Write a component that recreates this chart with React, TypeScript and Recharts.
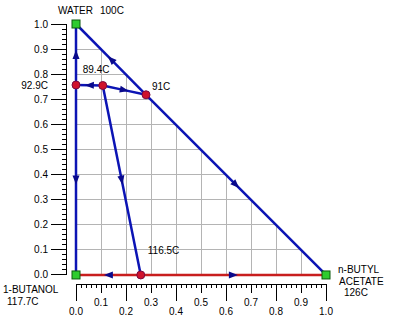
import React from 'react';
import { ComposedChart, Line, Scatter, XAxis, YAxis, ReferenceLine } from 'recharts';

// Pure components (corners of the composition triangle)
const pureNames = ['WATER', '1-BUTANOL', 'n-BUTYL ACETATE'];
const pureTemps = ['100C', '117.7C', '126C'];
const pureX = [0, 0, 1];
const pureY = [1, 0, 0];

// Azeotropes
const azeoTemps = ['92.9C', '89.4C', '91C', '116.5C'];
const azeoX = [0, 0.107, 0.28, 0.259];
const azeoY = [0.757, 0.755, 0.718, 0];

// Distillation boundaries, from -> to (arrow direction). P = pure, A = azeotrope
const blueFrom = ['A0', 'A0', 'A1', 'A1', 'A1', 'A2', 'A2'];
const blueTo = ['P0', 'P1', 'A0', 'A2', 'A3', 'P0', 'P2'];
const redFrom = ['A3', 'A3'];
const redTo = ['P1', 'P2'];

// Axis tick labels and grid
const axisLabels = [0, 0.1, 0.2, 0.3, 0.4, 0.5, 0.6, 0.7, 0.8, 0.9, 1.0];
const gridValues = [0.1, 0.2, 0.3, 0.4, 0.5, 0.6, 0.7, 0.8, 0.9];
const minorTicks = Array.from({ length: 51 }, (_, i) => Math.round(i * 2) / 100);

const X_MIN = -0.04;
const Y_MIN = -0.036;

const BLUE = '#0c14b4';
const RED = '#c81e1e';
const ARROW = '#0a0a8c';
const FONT = 'Liberation Sans, Arial, sans-serif';

const pureData = pureNames.map((name, i) => ({ name, temp: pureTemps[i], x: pureX[i], y: pureY[i], idx: i }));
const azeoData = azeoTemps.map((temp, i) => ({ temp, x: azeoX[i], y: azeoY[i], idx: i }));

const pts: Record<string, { x: number; y: number }> = {};
pureData.forEach((p) => (pts['P' + p.idx] = { x: p.x, y: p.y }));
azeoData.forEach((p) => (pts['A' + p.idx] = { x: p.x, y: p.y }));

const segment = (from: string, to: string) => {
  const a = pts[from];
  const b = pts[to];
  return [a, { x: (a.x + b.x) / 2, y: (a.y + b.y) / 2 }, b];
};

// label placement (pixel offsets from the marker)
const pureLabelPos = [
  [{ dx: -18, dy: -10 }, { dx: 24, dy: -10 }],
  [{ dx: -73, dy: 18.5 }, { dx: -69, dy: 30.5 }],
  [{ dx: 12, dy: -1.5 }, { dx: 13, dy: 10 }, { dx: 18, dy: 21 }],
];
const azeoLabelPos = [
  { dx: -28, dy: 4, anchor: 'end' },
  { dx: -20, dy: -12, anchor: 'start' },
  { dx: 6, dy: -5, anchor: 'start' },
  { dx: 7, dy: -20.5, anchor: 'start' },
];

const makeArrow = (from: string, to: string) => (props: any) => {
  const { cx, cy, index } = props;
  if (index !== 1 || cx == null) return <g key={`a-${index}`} />;
  const a = pts[from];
  const b = pts[to];
  const ang = Math.atan2(-(b.y - a.y), b.x - a.x);
  const c = Math.cos(ang);
  const s = Math.sin(ang);
  const L = 4.5;
  const W = 3.5;
  const p1 = `${cx + c * L},${cy + s * L}`;
  const p2 = `${cx - c * L - s * W},${cy - s * L + c * W}`;
  const p3 = `${cx - c * L + s * W},${cy - s * L - c * W}`;
  return <polygon key={`a-${index}`} points={`${p1} ${p2} ${p3}`} fill={ARROW} />;
};

const XTick = (props: any) => {
  const { x, y, payload } = props;
  const v = payload.value;
  const k = Math.round(v * 50);
  const major = k % 5 === 0;
  const even = k % 10 === 0;
  const len = !major ? 4 : even ? 17 : 9;
  return (
    <g>
      <line x1={x} x2={x} y1={y} y2={y + len} stroke="#000" shapeRendering="crispEdges" />
      {major && (
        <text x={x} y={y + (even ? 31 : 21.5)} textAnchor="middle" fontSize={10} fontFamily={FONT} fill="#000">
          {v.toFixed(1)}
        </text>
      )}
    </g>
  );
};

const YTick = (props: any) => {
  const { x, y, payload } = props;
  const v = payload.value;
  const k = Math.round(v * 50);
  const major = k % 5 === 0;
  const len = major ? 15 : 4;
  return (
    <g>
      <line x1={x - len} x2={x} y1={y} y2={y} stroke="#000" shapeRendering="crispEdges" />
      {major && (
        <text x={x - 18} y={y + 3.5} textAnchor="end" fontSize={10} fontFamily={FONT} fill="#000">
          {v.toFixed(1)}
        </text>
      )}
    </g>
  );
};

const PureShape = (props: any) => {
  const { cx, cy, payload } = props;
  const lines = [...payload.name.split(' '), payload.temp];
  const pos = pureLabelPos[payload.idx];
  return (
    <g>
      <rect x={cx - 4} y={cy - 4} width={8} height={8} fill="#2ecc2e" stroke="#0d5a0d" strokeWidth={1} />
      {lines.map((t: string, i: number) => (
        <text key={i} x={cx + pos[i].dx} y={cy + pos[i].dy} fontSize={10} fontFamily={FONT} fill="#000">
          {t}
        </text>
      ))}
    </g>
  );
};

const AzeoShape = (props: any) => {
  const { cx, cy, payload } = props;
  const pos = azeoLabelPos[payload.idx];
  return (
    <g>
      <circle cx={cx} cy={cy} r={4} fill="#d0122c" stroke="#7a0a40" strokeWidth={1} />
      <text x={cx + pos.dx} y={cy + pos.dy} textAnchor={pos.anchor as any} fontSize={10} fontFamily={FONT} fill="#000">
        {payload.temp}
      </text>
    </g>
  );
};

export default function App() {
  return (
    <div style={{ position: 'absolute', left: 0, top: 0, background: '#fff' }}>
      <ComposedChart width={405} height={323} margin={{ top: 24, right: 79, bottom: 0, left: 0 }}>
        <XAxis
          type="number"
          dataKey="x"
          domain={[X_MIN, 1]}
          ticks={minorTicks}
          interval={0}
          tickSize={0}
          tickMargin={0}
          axisLine={false}
          tickLine={false}
          tick={<XTick />}
          height={39}
        />
        <YAxis
          type="number"
          dataKey="y"
          domain={[Y_MIN, 1]}
          ticks={minorTicks}
          interval={0}
          tickSize={0}
          tickMargin={0}
          axisLine={false}
          tickLine={false}
          tick={<YTick />}
          width={66}
        />
        {gridValues.map((g) => (
          <ReferenceLine
            key={`gv${g}`}
            segment={[{ x: g, y: 0 }, { x: g, y: 1 - g }]}
            stroke="#b4b4b4"
            shapeRendering="crispEdges"
          />
        ))}
        {gridValues.map((g) => (
          <ReferenceLine
            key={`gh${g}`}
            segment={[{ x: 0, y: g }, { x: 1 - g, y: g }]}
            stroke="#b4b4b4"
            shapeRendering="crispEdges"
          />
        ))}
        <ReferenceLine segment={[{ x: 0, y: Y_MIN }, { x: 1, y: Y_MIN }]} stroke="#000" shapeRendering="crispEdges" />
        <ReferenceLine segment={[{ x: X_MIN, y: 0 }, { x: X_MIN, y: 1 }]} stroke="#000" shapeRendering="crispEdges" />
        {redFrom.map((f, i) => (
          <Line
            key={`r${i}`}
            data={segment(f, redTo[i])}
            dataKey="y"
            stroke={RED}
            strokeWidth={2.5}
            dot={makeArrow(f, redTo[i])}
            activeDot={false}
            isAnimationActive={false}
          />
        ))}
        {blueFrom.map((f, i) => (
          <Line
            key={`b${i}`}
            data={segment(f, blueTo[i])}
            dataKey="y"
            stroke={BLUE}
            strokeWidth={2.5}
            dot={makeArrow(f, blueTo[i])}
            activeDot={false}
            isAnimationActive={false}
          />
        ))}
        <Scatter data={azeoData} shape={<AzeoShape />} isAnimationActive={false} />
        <Scatter data={pureData} shape={<PureShape />} isAnimationActive={false} />
      </ComposedChart>
    </div>
  );
}
